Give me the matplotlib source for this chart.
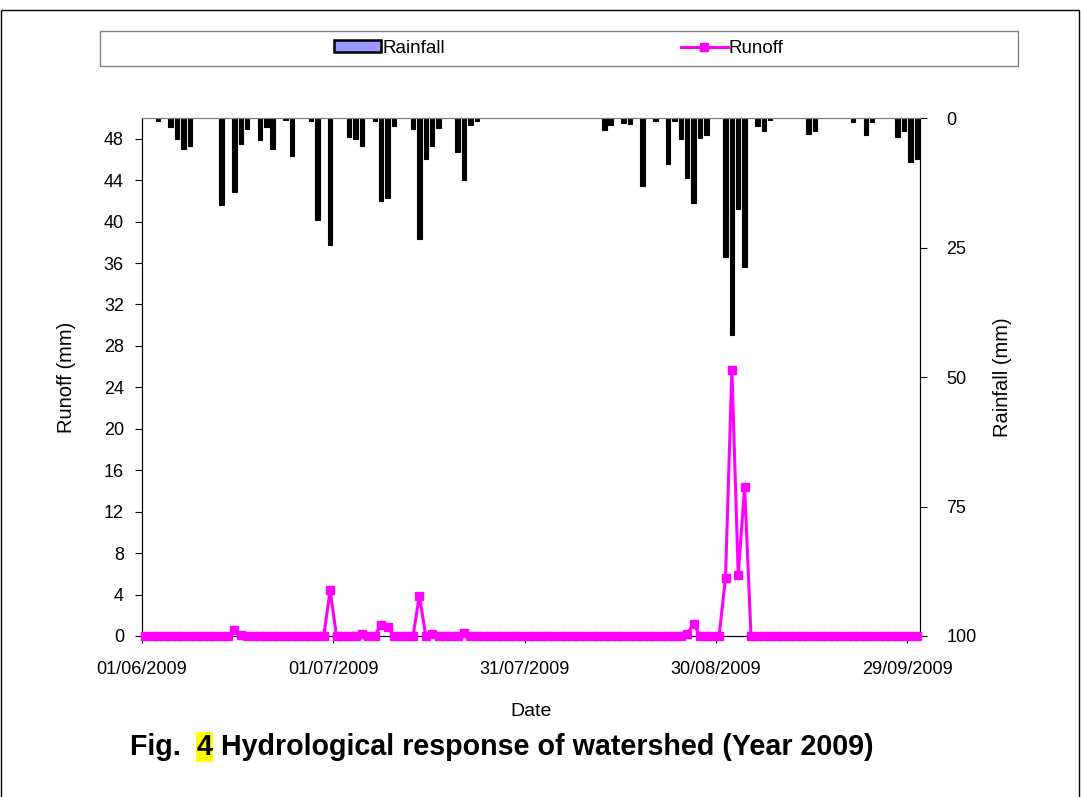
import matplotlib
matplotlib.use("Agg")
import matplotlib.pyplot as plt
import matplotlib.dates as mdates
from matplotlib.patches import Patch, Rectangle
from matplotlib.lines import Line2D
import pandas as pd

plt.rcParams['font.family'] = ['Liberation Sans', 'DejaVu Sans']

# daily series 01/06/2009 - 30/09/2009, days not listed are zero
rain_dates = ["03/06", "05/06", "06/06", "07/06", "08/06", "13/06", "15/06", "16/06",
              "17/06", "19/06", "20/06", "21/06", "23/06", "24/06", "27/06", "28/06",
              "30/06", "03/07", "04/07", "05/07", "07/07", "08/07", "09/07", "10/07",
              "13/07", "14/07", "15/07", "16/07", "17/07", "20/07", "21/07", "22/07",
              "23/07", "12/08", "13/08", "15/08", "16/08", "18/08", "20/08", "22/08",
              "23/08", "24/08", "25/08", "26/08", "27/08", "28/08", "31/08", "01/09",
              "02/09", "03/09", "05/09", "06/09", "07/09", "13/09", "14/09", "20/09",
              "22/09", "23/09", "27/09", "28/09", "29/09", "30/09"]
rain_mm = [0.6, 1.7, 4.1, 5.9, 5.5, 16.7, 14.3, 5.1,
           2.1, 4.2, 1.7, 6.0, 0.4, 7.3, 0.6, 19.6,
           24.5, 3.7, 4.1, 5.5, 0.5, 16.1, 15.4, 1.5,
           2.1, 23.4, 7.9, 5.4, 1.9, 6.6, 12.0, 1.4,
           0.5, 2.3, 1.35, 0.9, 1.2, 13.1, 0.5, 8.9,
           0.5, 4.1, 11.6, 16.5, 3.9, 3.3, 26.8, 41.9,
           17.6, 28.7, 1.5, 2.6, 0.4, 3.1, 2.6, 0.7,
           3.3, 0.7, 3.7, 2.6, 8.4, 7.9]

runoff_dates = ["15/06", "16/06", "30/06", "05/07", "08/07", "09/07", "14/07", "16/07",
                "21/07", "25/08", "26/08", "31/08", "01/09", "02/09", "03/09"]
runoff_mm = [0.6, 0.1, 4.4, 0.2, 1.1, 0.9, 3.9, 0.15,
             0.3, 0.2, 1.2, 5.6, 25.7, 5.9, 14.4]

days = pd.date_range("2009-06-01", "2009-09-30", freq="D")


def to_series(dates, vals):
    idx = pd.to_datetime([d + "/2009" for d in dates], format="%d/%m/%Y")
    return pd.Series(vals, index=idx).reindex(days, fill_value=0.0)


rain = to_series(rain_dates, rain_mm)
runoff = to_series(runoff_dates, runoff_mm)

# points sit in the middle of each day
x = mdates.date2num(days) + 0.5

fig = plt.figure(figsize=(10.81, 7.97), dpi=100)
ax = fig.add_axes([142 / 1081, 1 - 636 / 797, 778 / 1081, 518 / 797])
ax2 = ax.twinx()

rain_x = x[rain.values > 0]
ax2.bar(rain_x, rain.values[rain.values > 0], width=0.7, color="black",
        edgecolor="black", linewidth=0.8)
ax2.set_ylim(100, 0)
ax2.set_yticks([0, 25, 50, 75, 100])
ax2.set_ylabel("Rainfall (mm)", fontsize=14.5, labelpad=12)

ax.plot(x, runoff.values, color="#FF00FF", lw=2.2, marker="s", markersize=6,
        zorder=5, clip_on=False)
ax.set_zorder(ax2.get_zorder() + 1)
ax.patch.set_visible(False)
ax.set_ylim(0, 50)
ax.set_yticks(range(0, 49, 4))
ax.set_ylabel("Runoff (mm)", fontsize=14.5, labelpad=20)
ax.set_xlabel("Date", fontsize=14, labelpad=18)

start = mdates.date2num(days[0])
ax.set_xlim(start, start + len(days))
ax.set_xticks([start + 30 * k for k in range(5)])
ax.xaxis.set_major_formatter(mdates.DateFormatter("%d/%m/%Y"))

ax.tick_params(axis="x", labelsize=13, length=5, width=0.8, direction="out", pad=13)
ax.tick_params(axis="y", labelsize=13, length=5, width=0.8, direction="out", pad=8)
ax2.tick_params(axis="y", labelsize=13, length=5, width=0.8, direction="out", pad=14)
for a in (ax, ax2):
    a.spines["top"].set_color("#808080")
    for s in ("left", "right", "bottom"):
        a.spines[s].set_color("black")

# legend box
fig.patches.append(Rectangle((100 / 1081, 1 - 66 / 797), 918 / 1081, 35 / 797,
                             transform=fig.transFigure, fill=False,
                             edgecolor="#808080", lw=1))
handles = [Patch(facecolor="#9999FF", edgecolor="black", linewidth=1.8, label="Rainfall"),
           Line2D([], [], color="#FF00FF", lw=2.2, marker="s", markersize=6, label="Runoff")]
fig.legend(handles=handles, loc="center", bbox_to_anchor=(559 / 1081, 1 - 48.5 / 797),
           ncol=2, frameon=False, fontsize=13.5, handlelength=2.5, handleheight=0.6,
           handletextpad=0.05, columnspacing=12.6)

# outer frame
fig.patches.append(Rectangle((0.001, -0.01), 0.997, 1 - 10 / 797 + 0.01,
                             transform=fig.transFigure, fill=False,
                             edgecolor="black", lw=1))

# caption with highlighted figure number
base_y = 1 - 755 / 797
t1 = fig.text(130 / 1081, base_y, "Fig.  ", fontsize=20.6, fontweight="bold",
              va="baseline")
t2 = fig.text(0, base_y, "4", fontsize=20.6, fontweight="bold", va="baseline",
              bbox=dict(facecolor="yellow", edgecolor="none", pad=0.5))
t3 = fig.text(0, base_y, " Hydrological response of watershed (Year 2009)", fontsize=20.6,
              fontweight="bold", va="baseline")
fig.canvas.draw()
r = fig.canvas.get_renderer()
inv = fig.transFigure.inverted()
t2.set_x(inv.transform((t1.get_window_extent(r).x1, 0))[0])
fig.canvas.draw()
t3.set_x(inv.transform((t2.get_window_extent(r).x1, 0))[0])

fig.savefig("out.png", dpi=100)
